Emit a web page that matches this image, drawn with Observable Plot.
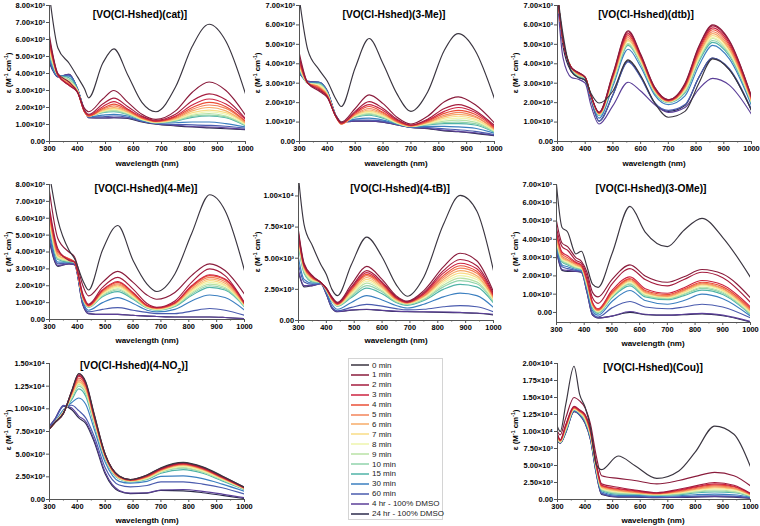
<!DOCTYPE html>
<html><head><meta charset="utf-8">
<script src="https://cdn.jsdelivr.net/npm/d3@7"></script>
<script src="https://cdn.jsdelivr.net/npm/@observablehq/plot@0.6"></script>
<style>
body{margin:0;background:#fff;font-family:"Liberation Sans",Arial,sans-serif;}
#root{position:relative;width:760px;height:526px;overflow:hidden;}
.pl{position:absolute;}
.title{position:absolute;font-weight:bold;font-size:10.2px;white-space:nowrap;transform:translate(-50%,-50%);color:#000;}
.xl{position:absolute;font-weight:bold;font-size:8px;white-space:nowrap;transform:translate(-50%,-50%);}
.yl{position:absolute;font-weight:bold;font-size:8px;white-space:nowrap;transform:translate(-50%,-50%) rotate(-90deg);}
.yl sup{font-size:5px;}
.title sub{font-size:7px;}
#legend{position:absolute;left:348px;top:358px;width:95px;height:162px;border:1px solid #d4d4d4;box-sizing:border-box;font-size:8px;color:#222;}
.li{position:absolute;left:2px;height:10px;display:flex;align-items:center;white-space:nowrap;}
.li svg{margin-right:3px;}
</style></head><body><div id="root"></div>
<script>
// ---- series labels and colours ----
const times = ["0 min","1 min","2 min","3 min","4 min","5 min","6 min","7 min","8 min","9 min","10 min","15 min","30 min","60 min","4 hr - 100% DMSO","24 hr - 100% DMSO"];
const colors = ["#3a3540","#8a1c3c","#a51d3e","#cc2340","#ea4f37","#f3845a","#f7ab68","#f9dc86","#eef5ad","#b8e2a6","#90d3ab","#4fb3a7","#3b7fc0","#4a5bae","#5b3f98","#2c2b4c"];

// ---- [VO(Cl-Hshed)(cat)]  (values in 10^3 M^-1 cm^-1) ----
const catWl = [300,330,370,400,425,440,490,530,580,630,680,750,810,870,930,1000];
const catEps = [
[8.6,5.5,4.6,3.8,3.1,2.57,4.6,5.45,3.9,2.3,1.75,3.2,5.6,6.9,5.9,2.8],
[6.2,4.0,3.5,2.9,1.95,1.75,2.5,3.0,2.3,1.6,1.3,1.8,2.9,3.5,3.0,1.55],
[6.0,3.95,3.3,2.9,1.8,1.6,2.2,2.55,2.05,1.5,1.25,1.6,2.4,2.8,2.45,1.35],
[5.9,3.9,3.3,2.9,1.75,1.55,2.05,2.35,1.9,1.45,1.2,1.5,2.15,2.5,2.2,1.3],
[5.8,3.9,3.35,2.9,1.75,1.5,1.95,2.2,1.85,1.4,1.2,1.45,2.0,2.3,2.05,1.2],
[5.7,3.9,3.4,2.95,1.75,1.5,1.9,2.1,1.8,1.38,1.18,1.4,1.9,2.15,1.95,1.15],
[5.6,3.9,3.45,2.95,1.75,1.5,1.85,2.0,1.75,1.35,1.15,1.35,1.8,2.0,1.8,1.1],
[5.5,3.9,3.5,3.0,1.75,1.5,1.8,1.95,1.7,1.33,1.15,1.3,1.7,1.85,1.7,1.05],
[5.4,3.9,3.55,3.0,1.75,1.5,1.78,1.9,1.68,1.3,1.12,1.28,1.6,1.75,1.6,1.0],
[5.3,3.9,3.6,3.0,1.75,1.5,1.75,1.85,1.65,1.3,1.12,1.25,1.55,1.65,1.5,0.98],
[5.2,3.9,3.65,3.0,1.75,1.5,1.72,1.8,1.6,1.28,1.1,1.22,1.48,1.55,1.45,0.95],
[5.1,3.9,3.75,3.05,1.75,1.5,1.7,1.75,1.58,1.27,1.1,1.2,1.42,1.5,1.4,0.92],
[4.9,3.85,3.85,3.1,1.8,1.45,1.55,1.6,1.5,1.22,1.08,1.1,1.15,1.15,1.05,0.85],
[4.8,3.85,3.9,3.1,1.8,1.45,1.45,1.5,1.42,1.2,1.05,1.0,0.98,0.95,0.9,0.78],
[4.7,3.8,3.95,3.1,1.85,1.4,1.38,1.4,1.38,1.18,1.05,0.95,0.88,0.85,0.8,0.72],
[4.6,3.8,3.95,3.1,1.85,1.4,1.38,1.4,1.35,1.15,1.02,0.92,0.85,0.8,0.75,0.7]];

// ---- [VO(Cl-Hshed)(3-Me)] ----
const meta3Wl = [300,330,370,400,430,450,500,550,600,650,700,760,820,870,930,1000];
const meta3Eps = [
[7.3,4.7,3.7,3.1,2.2,1.8,3.8,5.3,4.0,2.45,1.55,2.55,4.7,5.55,4.7,2.2],
[4.5,3.0,2.6,2.25,1.35,1.0,1.7,2.4,1.95,1.25,0.9,1.3,2.05,2.3,1.9,0.95],
[4.3,3.0,2.65,2.3,1.3,0.95,1.55,2.05,1.7,1.15,0.85,1.15,1.7,1.9,1.6,0.82],
[4.2,3.0,2.7,2.3,1.3,0.95,1.5,1.9,1.6,1.1,0.83,1.1,1.55,1.75,1.5,0.75],
[4.1,3.0,2.75,2.35,1.3,0.9,1.45,1.8,1.5,1.05,0.82,1.05,1.45,1.6,1.4,0.7],
[4.0,3.0,2.8,2.35,1.3,0.9,1.4,1.7,1.45,1.02,0.8,1.0,1.35,1.5,1.3,0.65],
[3.95,3.0,2.8,2.4,1.3,0.9,1.38,1.62,1.4,1.0,0.8,0.98,1.28,1.4,1.25,0.62],
[3.9,3.0,2.85,2.4,1.3,0.9,1.35,1.55,1.35,0.98,0.78,0.95,1.2,1.3,1.15,0.58],
[3.85,3.0,2.9,2.45,1.3,0.95,1.32,1.5,1.3,0.96,0.78,0.92,1.12,1.2,1.08,0.55],
[3.8,3.0,2.9,2.45,1.3,0.95,1.3,1.45,1.28,0.95,0.77,0.9,1.05,1.1,1.0,0.52],
[3.75,3.0,2.95,2.5,1.3,1.0,1.28,1.4,1.25,0.94,0.77,0.88,0.98,1.0,0.92,0.5],
[3.7,3.0,3.0,2.5,1.3,1.0,1.25,1.35,1.2,0.92,0.76,0.85,0.92,0.92,0.85,0.47],
[3.6,3.05,3.05,2.55,1.35,1.0,1.15,1.2,1.1,0.9,0.75,0.78,0.78,0.75,0.68,0.42],
[3.55,3.05,3.05,2.55,1.35,1.0,1.1,1.1,1.05,0.88,0.74,0.72,0.65,0.6,0.52,0.35],
[3.5,3.1,3.05,2.6,1.35,1.0,1.05,1.05,1.0,0.86,0.73,0.68,0.58,0.52,0.45,0.32],
[3.5,3.1,3.05,2.6,1.35,1.0,1.05,1.05,1.0,0.85,0.72,0.66,0.55,0.5,0.42,0.3]];

// ---- [VO(Cl-Hshed)(dtb)] ----
const dtbWl = [300,320,350,375,400,420,450,500,555,600,650,700,760,810,860,920,1000];
const dtbEps = [
[7.6,5.5,3.6,3.3,3.15,2.5,1.98,2.6,4.2,3.4,2.0,1.25,1.55,3.0,4.25,3.7,1.6],
[7.5,5.2,3.8,3.55,3.3,2.4,1.5,3.5,5.7,4.5,2.8,2.15,3.0,4.9,6.0,5.2,2.3],
[7.5,5.2,3.8,3.55,3.3,2.4,1.5,3.45,5.65,4.45,2.8,2.15,2.95,4.85,5.95,5.15,2.3],
[7.5,5.2,3.8,3.55,3.3,2.4,1.48,3.4,5.55,4.4,2.75,2.12,2.9,4.75,5.85,5.05,2.25],
[7.5,5.2,3.8,3.5,3.3,2.4,1.46,3.35,5.45,4.35,2.7,2.1,2.85,4.65,5.75,4.95,2.2],
[7.5,5.2,3.8,3.5,3.3,2.4,1.44,3.3,5.35,4.3,2.68,2.08,2.8,4.55,5.65,4.85,2.15],
[7.5,5.2,3.8,3.45,3.3,2.4,1.42,3.25,5.25,4.25,2.65,2.06,2.75,4.45,5.55,4.75,2.1],
[7.5,5.2,3.8,3.45,3.3,2.4,1.4,3.2,5.2,4.2,2.62,2.05,2.7,4.4,5.45,4.7,2.08],
[7.5,5.2,3.8,3.45,3.3,2.4,1.4,3.15,5.15,4.15,2.6,2.04,2.65,4.3,5.35,4.6,2.05],
[7.5,5.2,3.8,3.4,3.3,2.4,1.38,3.1,5.05,4.1,2.58,2.03,2.6,4.25,5.3,4.55,2.02],
[7.5,5.2,3.8,3.4,3.25,2.35,1.36,3.05,5.0,4.05,2.55,2.02,2.55,4.2,5.2,4.5,2.0],
[7.5,5.2,3.8,3.35,3.25,2.35,1.33,3.0,4.95,4.0,2.5,2.0,2.5,4.1,5.1,4.4,1.95],
[7.5,5.2,3.75,3.3,3.2,2.3,1.2,2.85,4.75,3.85,2.4,1.9,2.35,3.9,4.95,4.25,1.85],
[7.5,5.2,3.7,3.3,3.2,2.25,1.05,2.4,4.1,3.3,2.0,1.6,1.9,3.3,4.3,3.75,1.65],
[7.3,4.3,3.3,3.2,3.0,1.9,0.9,1.85,3.05,2.6,1.9,1.5,1.75,2.7,3.25,2.9,1.4],
[7.5,4.9,3.6,3.3,3.15,2.2,1.05,2.4,4.15,3.35,2.0,1.55,1.85,3.3,4.3,3.7,1.6]];

// ---- [VO(Cl-Hshed)(4-Me)] ----
const me4Wl = [300,330,370,390,420,440,490,545,600,650,685,750,810,875,930,1000];
const me4Eps = [
[8.6,5.9,4.1,3.6,2.3,1.75,4.1,5.57,3.5,2.1,1.66,2.7,5.08,7.39,6.46,2.9],
[7.6,4.8,4.0,3.7,2.0,1.4,2.2,2.85,2.2,1.45,1.2,1.6,2.6,3.3,2.9,1.5],
[6.6,4.2,3.5,3.4,1.5,0.9,1.9,2.5,1.8,0.95,0.72,1.1,2.2,3.0,2.6,1.0],
[6.4,4.1,3.55,3.4,1.4,0.85,1.75,2.25,1.6,0.85,0.7,1.0,2.0,2.65,2.4,0.95],
[6.3,4.0,3.6,3.4,1.35,0.82,1.7,2.2,1.55,0.82,0.68,0.98,1.95,2.6,2.35,0.92],
[6.2,3.9,3.6,3.4,1.3,0.8,1.65,2.12,1.5,0.8,0.66,0.95,1.9,2.5,2.25,0.9],
[6.1,3.8,3.55,3.4,1.3,0.78,1.6,2.05,1.45,0.78,0.64,0.92,1.8,2.4,2.15,0.88],
[6.0,3.75,3.5,3.4,1.28,0.78,1.55,1.98,1.4,0.76,0.62,0.9,1.72,2.3,2.05,0.85],
[5.9,3.7,3.5,3.4,1.25,0.76,1.5,1.9,1.35,0.74,0.6,0.86,1.65,2.2,1.98,0.83],
[5.8,3.65,3.45,3.4,1.22,0.75,1.45,1.82,1.3,0.72,0.58,0.83,1.58,2.1,1.9,0.8],
[5.7,3.6,3.45,3.4,1.2,0.74,1.4,1.75,1.25,0.7,0.56,0.8,1.5,2.0,1.82,0.78],
[5.6,3.55,3.4,3.4,1.18,0.72,1.35,1.65,1.2,0.68,0.55,0.77,1.42,1.9,1.75,0.75],
[5.3,3.4,3.4,3.35,1.05,0.55,1.0,1.3,0.95,0.55,0.45,0.6,1.1,1.45,1.3,0.55],
[5.0,3.3,3.35,3.3,0.95,0.45,0.6,0.7,0.55,0.42,0.35,0.35,0.5,0.65,0.55,0.25],
[4.7,3.2,3.3,3.25,0.85,0.35,0.3,0.3,0.25,0.2,0.18,0.15,0.15,0.15,0.12,0.05],
[4.6,3.15,3.3,3.25,0.85,0.35,0.3,0.3,0.25,0.2,0.18,0.15,0.15,0.15,0.12,0.05]];

// ---- [VO(Cl-Hshed)(4-tB)] ----
const tb4Wl = [300,320,350,380,400,420,440,490,545,600,650,690,750,820,880,940,1000];
const tb4Eps = [
[11.5,7.7,6.0,4.5,3.7,2.5,2.0,4.5,6.7,5.1,2.9,1.95,3.5,7.7,10.05,8.8,4.0],
[7.2,4.6,3.6,3.05,2.6,1.9,1.45,2.9,4.35,3.3,2.0,1.55,2.4,4.3,5.4,4.8,2.3],
[7.0,4.5,3.55,3.05,2.6,1.85,1.4,2.7,4.0,3.1,1.9,1.5,2.25,4.0,4.9,4.4,2.15],
[6.9,4.4,3.5,3.05,2.55,1.8,1.35,2.6,3.85,3.0,1.85,1.48,2.15,3.8,4.6,4.15,2.05],
[6.8,4.35,3.45,3.05,2.55,1.75,1.32,2.5,3.7,2.9,1.8,1.45,2.1,3.6,4.4,3.95,1.95],
[6.7,4.3,3.4,3.05,2.5,1.7,1.3,2.45,3.6,2.8,1.75,1.42,2.0,3.45,4.2,3.8,1.9],
[6.6,4.2,3.35,3.05,2.5,1.68,1.28,2.35,3.45,2.7,1.7,1.4,1.95,3.3,4.0,3.6,1.8],
[6.5,4.15,3.3,3.05,2.5,1.65,1.25,2.25,3.3,2.6,1.65,1.38,1.9,3.15,3.8,3.45,1.72],
[6.4,4.1,3.25,3.05,2.45,1.62,1.22,2.15,3.15,2.5,1.6,1.35,1.82,3.0,3.6,3.3,1.65],
[6.3,4.0,3.2,3.05,2.45,1.6,1.2,2.05,3.0,2.4,1.55,1.32,1.75,2.85,3.4,3.1,1.58],
[6.2,3.9,3.15,3.05,2.4,1.58,1.18,1.95,2.8,2.3,1.5,1.28,1.68,2.7,3.2,2.95,1.5],
[6.0,3.8,3.1,3.05,2.4,1.55,1.15,1.85,2.6,2.15,1.45,1.22,1.6,2.5,2.9,2.7,1.4],
[5.0,3.3,3.0,3.0,2.3,1.3,0.9,1.45,2.0,1.65,1.2,1.0,1.3,1.9,2.2,2.0,1.05],
[4.5,3.1,2.9,2.95,2.2,1.1,0.78,1.05,1.3,1.15,0.95,0.85,0.9,1.1,1.2,1.1,0.7],
[4.0,2.8,2.8,2.95,2.1,1.0,0.72,0.85,0.9,0.82,0.75,0.72,0.7,0.68,0.65,0.6,0.5],
[3.9,2.7,2.8,2.95,2.1,1.0,0.7,0.82,0.88,0.8,0.72,0.7,0.68,0.65,0.62,0.58,0.45]];

// ---- [VO(Cl-Hshed)(3-OMe)] ----
const ome3Wl = [300,320,340,370,390,410,430,450,500,565,620,700,760,825,900,1000];
const ome3Eps = [
[7.0,4.65,4.4,3.2,3.35,2.5,1.55,1.37,3.2,5.8,4.4,3.6,4.5,5.15,4.1,1.92],
[5.0,3.8,3.6,3.0,2.8,2.2,1.1,0.85,1.8,2.6,2.0,1.65,1.95,2.35,2.1,0.8],
[4.6,3.6,3.4,2.85,2.7,2.0,0.8,0.5,1.55,2.4,1.8,1.45,1.8,2.2,1.9,0.55],
[4.4,3.3,3.1,2.75,2.6,1.8,0.55,0.2,1.2,1.95,1.3,1.05,1.35,1.75,1.5,0.3],
[4.3,3.2,3.0,2.7,2.55,1.75,0.5,0.15,1.1,1.85,1.2,0.98,1.28,1.65,1.4,0.22],
[4.2,3.1,2.9,2.65,2.5,1.7,0.45,0.12,1.05,1.8,1.15,0.92,1.22,1.6,1.32,0.15],
[4.1,3.0,2.85,2.6,2.48,1.65,0.42,0.1,1.0,1.75,1.1,0.88,1.18,1.55,1.28,0.1],
[4.0,2.95,2.8,2.55,2.45,1.6,0.4,0.08,0.95,1.7,1.05,0.85,1.12,1.5,1.22,0.05],
[3.95,2.9,2.75,2.5,2.42,1.55,0.38,0.05,0.92,1.65,1.0,0.82,1.08,1.45,1.18,0.0],
[3.9,2.85,2.7,2.48,2.4,1.5,0.35,0.02,0.88,1.6,0.95,0.78,1.02,1.38,1.12,-0.05],
[3.85,2.8,2.65,2.45,2.38,1.45,0.3,0.0,0.85,1.55,0.92,0.75,0.98,1.32,1.05,-0.08],
[3.8,2.75,2.6,2.42,2.35,1.4,0.25,-0.05,0.8,1.45,0.85,0.7,0.92,1.22,0.98,-0.12],
[3.6,2.6,2.5,2.35,2.3,1.3,0.1,-0.15,0.6,1.2,0.65,0.45,0.65,1.0,0.75,-0.2],
[3.5,2.5,2.4,2.3,2.25,1.2,-0.05,-0.25,0.25,0.6,0.3,0.2,0.3,0.45,0.3,-0.3],
[3.4,2.35,2.3,2.25,2.2,1.1,-0.15,-0.3,-0.2,0.05,-0.1,-0.15,-0.1,-0.05,-0.15,-0.5],
[3.35,2.3,2.25,2.25,2.2,1.1,-0.15,-0.3,-0.2,0.0,-0.12,-0.15,-0.12,-0.08,-0.18,-0.52]];

// ---- [VO(Cl-Hshed)(4-NO2)] ----
const no2Wl = [300,320,350,380,405,430,460,500,550,590,650,700,780,850,920,1000];
const no2Eps = [
[7.8,8.5,9.5,12.0,13.9,13.0,9.5,5.0,2.6,2.2,2.7,3.5,4.1,3.6,2.6,1.35],
[7.8,8.5,9.5,12.0,13.85,12.9,9.4,5.0,2.6,2.2,2.7,3.45,4.05,3.55,2.55,1.33],
[7.8,8.5,9.5,11.9,13.7,12.8,9.3,4.9,2.55,2.18,2.65,3.4,4.0,3.5,2.5,1.3],
[7.8,8.5,9.5,11.9,13.6,12.7,9.2,4.9,2.55,2.15,2.6,3.35,3.95,3.45,2.45,1.28],
[7.8,8.5,9.55,11.8,13.4,12.6,9.1,4.85,2.5,2.12,2.55,3.3,3.9,3.4,2.42,1.26],
[7.8,8.5,9.55,11.7,13.2,12.4,9.0,4.8,2.45,2.1,2.5,3.25,3.85,3.35,2.4,1.24],
[7.8,8.5,9.6,11.6,13.0,12.2,8.9,4.75,2.4,2.08,2.45,3.2,3.8,3.3,2.35,1.22],
[7.8,8.5,9.6,11.5,12.9,12.1,8.8,4.7,2.38,2.05,2.4,3.15,3.72,3.22,2.3,1.2],
[7.8,8.5,9.65,11.4,12.8,12.0,8.7,4.65,2.35,2.02,2.35,3.1,3.65,3.15,2.25,1.18],
[7.8,8.5,9.65,11.3,12.7,11.9,8.6,4.6,2.32,2.0,2.3,3.05,3.55,3.05,2.2,1.15],
[7.8,8.5,9.7,11.2,12.5,11.7,8.5,4.55,2.3,1.98,2.25,3.0,3.45,3.0,2.15,1.12],
[7.8,8.5,9.7,11.0,12.2,11.4,8.3,4.45,2.25,1.95,2.2,2.9,3.3,2.9,2.05,1.08],
[7.9,8.6,9.9,10.7,11.2,10.5,7.8,4.1,2.0,1.8,2.0,2.55,2.6,2.3,1.7,0.9],
[8.0,8.8,10.3,10.4,9.8,9.0,7.0,3.5,1.6,1.4,1.55,1.95,1.95,1.7,1.3,0.6],
[8.1,8.9,10.4,10.1,9.2,8.6,6.6,3.0,1.0,0.7,0.75,1.05,1.1,0.9,0.6,0.2],
[8.1,8.9,10.3,9.9,9.0,8.4,6.4,2.8,0.9,0.65,0.7,1.0,0.95,0.75,0.45,0.1]];

// ---- [VO(Cl-Hshed)(Cou)] ----
const couWl = [300,310,330,360,380,400,420,440,460,520,580,660,740,800,870,940,1000];
const couEps = [
[10.7,10.0,14.0,19.6,15.5,13.6,10.5,5.2,4.4,6.4,5.0,3.1,4.2,7.0,10.8,9.6,4.8],
[10.0,9.5,12.0,15.0,14.5,13.5,11.0,6.5,3.5,3.1,2.8,2.3,2.8,3.4,4.0,3.5,2.0],
[9.6,8.8,11.0,13.7,13.2,12.5,10.2,5.5,2.3,1.8,1.4,1.0,1.5,2.0,2.5,2.1,0.9],
[9.5,8.7,10.9,13.6,13.1,12.4,10.0,5.3,2.1,1.6,1.3,0.95,1.4,1.85,2.3,1.95,0.85],
[9.4,8.7,10.8,13.5,13.0,12.3,9.9,5.2,2.0,1.5,1.2,0.9,1.3,1.75,2.15,1.85,0.8],
[9.3,8.6,10.7,13.5,13.0,12.2,9.8,5.1,1.9,1.4,1.1,0.85,1.2,1.6,2.0,1.7,0.75],
[9.2,8.6,10.6,13.4,12.9,12.1,9.7,5.0,1.8,1.3,1.05,0.82,1.1,1.5,1.85,1.6,0.7],
[9.1,8.5,10.5,13.4,12.9,12.0,9.6,4.9,1.7,1.2,1.0,0.8,1.0,1.4,1.7,1.5,0.65],
[9.0,8.5,10.4,13.3,12.8,11.9,9.5,4.8,1.6,1.1,0.95,0.75,0.95,1.3,1.55,1.35,0.6],
[8.95,8.4,10.3,13.3,12.8,11.8,9.4,4.7,1.5,1.0,0.9,0.7,0.88,1.2,1.4,1.2,0.55],
[8.9,8.4,10.2,13.2,12.7,11.7,9.3,4.6,1.4,0.9,0.85,0.65,0.8,1.1,1.25,1.1,0.5],
[8.85,8.4,10.1,13.2,12.7,11.6,9.2,4.5,1.3,0.8,0.8,0.6,0.7,0.95,1.1,1.0,0.45],
[8.8,8.4,10.0,13.1,12.6,11.5,9.0,4.3,1.1,0.6,0.6,0.45,0.55,0.7,0.8,0.7,0.35],
[8.7,8.3,9.9,13.0,12.5,11.4,8.9,4.1,0.9,0.45,0.45,0.35,0.4,0.5,0.55,0.5,0.25],
[8.7,8.3,9.9,13.0,12.5,11.3,8.8,4.0,0.8,0.4,0.4,0.3,0.35,0.4,0.45,0.4,0.2],
[8.6,8.3,9.8,12.9,12.4,11.2,8.7,3.9,0.75,0.35,0.35,0.28,0.3,0.35,0.4,0.35,0.18]];

// ---- axis ticks ----
const xTicks = [300,400,500,600,700,800,900,1000];
const xMinor = [350,450,550,650,750,850,950];
const ticks8k = [0,1000,2000,3000,4000,5000,6000,7000,8000];
const ticks7k = [0,1000,2000,3000,4000,5000,6000,7000];
const ticks10k = [0,2500,5000,7500,10000];
const ticks15k = [0,2500,5000,7500,10000,12500,15000];
const ticks20k = [0,2500,5000,7500,10000,12500,15000,17500,20000];

const panels = [
 {title:"[VO(Cl-Hshed)(cat)]", wl:catWl, eps:catEps, yDomain:[0,8000], yTicks:ticks8k, frame:[49,245,5,141], t:[140,14], xl:[147,163], yl:[8,73]},
 {title:"[VO(Cl-Hshed)(3-Me)]", wl:meta3Wl, eps:meta3Eps, yDomain:[0,7000], yTicks:ticks7k, frame:[299,494,5,141], t:[394,14], xl:[396,163], yl:[257,73]},
 {title:"[VO(Cl-Hshed)(dtb)]", wl:dtbWl, eps:dtbEps, yDomain:[0,7000], yTicks:ticks7k, frame:[557,751,5,141], t:[646,14], xl:[654,163], yl:[515,73]},
 {title:"[VO(Cl-Hshed)(4-Me)]", wl:me4Wl, eps:me4Eps, yDomain:[0,8000], yTicks:ticks8k, frame:[49,244,184,319], t:[146,188], xl:[147,340], yl:[8,252]},
 {title:"[VO(Cl-Hshed)(4-tB)]", wl:tb4Wl, eps:tb4Eps, yDomain:[0,11000], yTicks:ticks10k, frame:[298,493,183,320], t:[400,188], xl:[396,340], yl:[257,252]},
 {title:"[VO(Cl-Hshed)(3-OMe)]", wl:ome3Wl, eps:ome3Eps, yDomain:[-550,7000], yTicks:ticks7k, frame:[556,750,184,322], t:[651,188], xl:[653,343], yl:[515,252]},
 {title:"[VO(Cl-Hshed)(4-NO<sub>2</sub>)]", wl:no2Wl, eps:no2Eps, yDomain:[0,15000], yTicks:ticks15k, frame:[49,244,363,499], t:[134,367], xl:[147,520], yl:[8,430]},
 {title:"[VO(Cl-Hshed)(Cou)]", wl:couWl, eps:couEps, yDomain:[0,20000], yTicks:ticks20k, frame:[557,750,363,499], t:[653,367], xl:[653,520], yl:[515,430]}
];

const sup = {3:"\u00B3", 4:"\u2074"};
function fmt(d){
  if (d === 0) return "0.00";
  const e = Math.floor(Math.log10(Math.abs(d)) + 1e-9);
  return (d / Math.pow(10, e)).toFixed(2) + "\u00D710" + sup[e];
}

const root = document.getElementById("root");
const ml = 48, mr = 10, mt = 8, mb = 26;

for (const p of panels) {
  const [x0, x1, yT, yB] = p.frame;
  const width = ml + (x1 - x0) + mr;
  const height = mt + (yB - yT) + mb;
  const data = [];
  for (let i = p.eps.length - 1; i >= 0; i--) {
    p.eps[i].forEach((v, j) => data.push({w: p.wl[j], e: v * 1000, k: i}));
  }
  const chart = Plot.plot({
    width, height, marginLeft: ml, marginRight: mr, marginTop: mt, marginBottom: mb,
    style: {fontFamily: "'Liberation Sans', Arial, sans-serif", fontSize: "7.4px", fontWeight: "bold", background: "transparent", color: "#000"},
    x: {domain: [300, 1000]},
    y: {domain: p.yDomain},
    color: {type: "ordinal", domain: d3.range(16), range: colors},
    marks: [
      Plot.line(data, {x: "w", y: "e", z: "k", stroke: "k", strokeWidth: 1.15, curve: "monotone-x", clip: true}),
      Plot.axisX({ticks: xTicks, tickSize: 3, tickPadding: 1.5, tickFormat: d => String(d), label: null, stroke: "#555"}),
      Plot.axisX({ticks: xMinor, tickSize: 1.5, tickFormat: () => "", label: null, stroke: "#555"}),
      Plot.axisY({ticks: p.yTicks, tickSize: 3, tickPadding: 1.5, tickFormat: fmt, label: null, stroke: "#555"}),
      Plot.ruleY([p.yDomain[0]], {stroke: "#555", strokeWidth: 1}),
      Plot.ruleX([300], {stroke: "#555", strokeWidth: 1})
    ]
  });
  chart.classList.add("pl");
  chart.style.left = (x0 - ml) + "px";
  chart.style.top = (yT - mt) + "px";
  chart.style.overflow = "visible";
  root.appendChild(chart);

  const t = document.createElement("div");
  t.className = "title"; t.innerHTML = p.title;
  t.style.left = p.t[0] + "px"; t.style.top = p.t[1] + "px";
  root.appendChild(t);

  const xl = document.createElement("div");
  xl.className = "xl"; xl.textContent = "wavelength (nm)";
  xl.style.left = p.xl[0] + "px"; xl.style.top = p.xl[1] + "px";
  root.appendChild(xl);

  const yl = document.createElement("div");
  yl.className = "yl"; yl.innerHTML = "\u03B5 (M<sup>-1</sup> cm<sup>-1</sup>)";
  yl.style.left = p.yl[0] + "px"; yl.style.top = p.yl[1] + "px";
  root.appendChild(yl);
}

// ---- legend ----
const lg = document.createElement("div");
lg.id = "legend";
times.forEach((name, i) => {
  const row = document.createElement("div");
  row.className = "li";
  row.style.top = (1 + i * 9.9) + "px";
  const svg = d3.create("svg").attr("width", 18).attr("height", 4);
  svg.append("line").attr("x1", 0).attr("x2", 18).attr("y1", 2).attr("y2", 2)
     .attr("stroke", colors[i]).attr("stroke-width", 1.5);
  row.appendChild(svg.node());
  row.appendChild(document.createTextNode(name));
  lg.appendChild(row);
});
root.appendChild(lg);
</script></body></html>
